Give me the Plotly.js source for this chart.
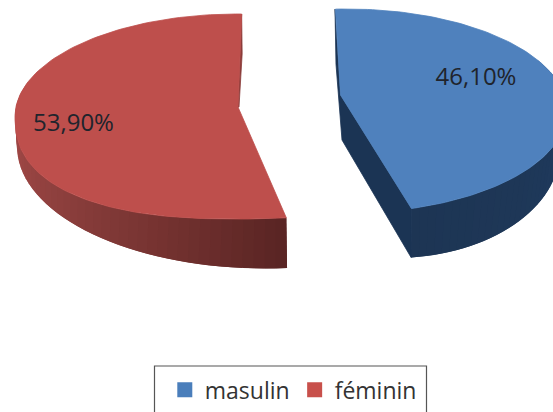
<!DOCTYPE html>
<html>
<head>
<meta charset="utf-8">
<script src="https://cdn.plot.ly/plotly-3.0.1.min.js"></script>
<style>html,body{margin:0;padding:0;background:#fff}#chart{width:553px;height:412px}</style>
</head>
<body>
<div id="chart"></div>
<script>
// Share of respondents by gender
const categories = ["masulin", "féminin"];
const shares = [46.1, 53.9];
const faceColors = ["#4F81BD", "#BE4F4C"];
const legendColors = ["#4A7EBB", "#C8504B"];

// Projection of each exploded slice onto the page (pixel space of the hidden axes).
// "front" squares off the near half of the rim to mimic the perspective of the view.
const blueView = {
  top: {cx: 347, cy: 111, rx: 220, ry: 102, front: 2},
  base: {cx: 395, cy: 150, rx: 165, ry: 108, front: 2},
  apex: [340.5, 95], apexBase: [342, 140],
  start: -3, wallFrom: 60, pivot: 90, baseEnd: 174.4,
  labelPos: [476, 79]
};
const redView = {
  top: {cx: 237, cy: 116.5, rx: 222, ry: 102.5, front: 2.4},
  base: {cx: 265, cy: 146.5, rx: 248, ry: 122, front: 2},
  apex: [238, 107],
  start: 1.2, wallFrom: -70, pivot: -90, baseEnd: -185.1,
  labelPos: [73.5, 125]
};

const rim = (e, deg) => {
  const a = deg * Math.PI / 180, s = Math.sin(a), c = Math.cos(a);
  const depth = c > 0 ? -c : Math.pow(1 - Math.pow(Math.abs(s), e.front), 1 / e.front);
  return [e.cx + e.rx * s, e.cy + e.ry * depth];
};
const range = (from, to, n) => Array.from({length: n + 1}, (_, i) => from + (to - from) * i / n);
const hex = c => [1, 3, 5].map(i => parseInt(c.substr(i, 2), 16));
function ramp(stops, t) {
  const s = Math.min(stops.length - 2, Math.floor(t * (stops.length - 1)));
  const f = t * (stops.length - 1) - s;
  const a = hex(stops[s]), b = hex(stops[s + 1]);
  return "rgb(" + a.map((v, i) => Math.round(v + (b[i] - v) * f)).join(",") + ")";
}
function poly(pts, color, edge) {
  return {
    x: pts.map(p => p[0]).concat(pts[0][0]),
    y: pts.map(p => p[1]).concat(pts[0][1]),
    mode: "lines", fill: "toself", fillcolor: color,
    line: {color: color, width: edge === undefined ? 0.8 : edge},
    showlegend: false, hoverinfo: "skip", type: "scatter"
  };
}

// Outer wall as shaded strips from the slice's angular span; each strip runs under
// the next one so that no gap opens between neighbours.
function wall(view, end, stops) {
  const steps = 44, out = [];
  const toBase = d => view.pivot + (d - view.pivot) * (view.baseEnd - view.pivot) / (end - view.pivot);
  const angles = range(view.wallFrom, end, steps);
  for (let i = 0; i < steps; i++) {
    const a = angles[i], b = angles[Math.min(i + 2, steps)];
    out.push(poly([rim(view.top, a), rim(view.top, b), rim(view.base, toBase(b)), rim(view.base, toBase(a))],
      ramp(stops, i / (steps - 1)), 0));
  }
  return out;
}
function face(view, end, color) {
  return poly([view.apex].concat(range(view.start, end, 120).map(d => rim(view.top, d))), color);
}

const blueEnd = blueView.start + shares[0] * 3.6;
const redEnd = redView.start - shares[1] * 3.6;
const blueCut = rim(blueView.top, blueEnd);
const blueCutBase = rim(blueView.base, blueView.baseEnd);
const blueStart = rim(blueView.top, blueView.start);
const redStart = rim(redView.top, redView.start);

const traces = [].concat(
  wall(blueView, blueEnd, ["#213E64", "#1F3A5E", "#1E3757", "#1D3554"]),
  [poly([[blueStart[0] - 0.5, blueStart[1]], blueView.apex, blueCut, blueCutBase, blueView.apexBase, [blueStart[0] + 0.5, blueStart[1] + 55]], "#1B3454")],
  [face(blueView, blueEnd, faceColors[0])],
  wall(redView, redEnd, ["#A84C4A", "#9C4644", "#8A3E3C", "#743230", "#5A2524"]),
  [poly([redStart, [redStart[0] + 0.5, redStart[1] + 40], [redView.apex[0] + 1, redView.apex[1]], redView.apex], "#8C3C3A")],
  [face(redView, redEnd, faceColors[1])]
);

// Percentage labels printed on the slices
const views = [blueView, redView];
traces.push({
  x: views.map(v => v.labelPos[0]), y: views.map(v => v.labelPos[1]),
  text: shares.map(v => v.toFixed(2).replace(".", ",") + "%"),
  mode: "text", type: "scatter", showlegend: false, hoverinfo: "skip",
  textfont: {family: "'Open Sans', sans-serif", size: 24, color: "#20242c"}
});

// Legend entries
categories.forEach((name, i) => traces.push({
  x: [null], y: [null], name: name, type: "scatter", mode: "markers",
  marker: {symbol: "square", size: 15, color: legendColors[i]}
}));

Plotly.newPlot("chart", traces, {
  width: 553, height: 412,
  margin: {l: 0, r: 0, t: 0, b: 0},
  paper_bgcolor: "#fff", plot_bgcolor: "#fff",
  xaxis: {range: [0, 553], visible: false, fixedrange: true},
  yaxis: {range: [412, 0], visible: false, fixedrange: true},
  showlegend: true,
  legend: {
    orientation: "h", x: 0.298, xanchor: "left", y: 0.106, yanchor: "top",
    bgcolor: "rgba(0,0,0,0)", borderwidth: 0,
    font: {family: "'Open Sans', sans-serif", size: 23, color: "#333"},
    itemclick: false, itemdoubleclick: false
  },
  shapes: [{type: "rect", xref: "x", yref: "y", x0: 154.5, x1: 426.5, y0: 366, y1: 420,
    line: {color: "#555", width: 1.2}, fillcolor: "rgba(0,0,0,0)"}],
  hovermode: false
}, {displayModeBar: false, staticPlot: true});
</script>
</body>
</html>
